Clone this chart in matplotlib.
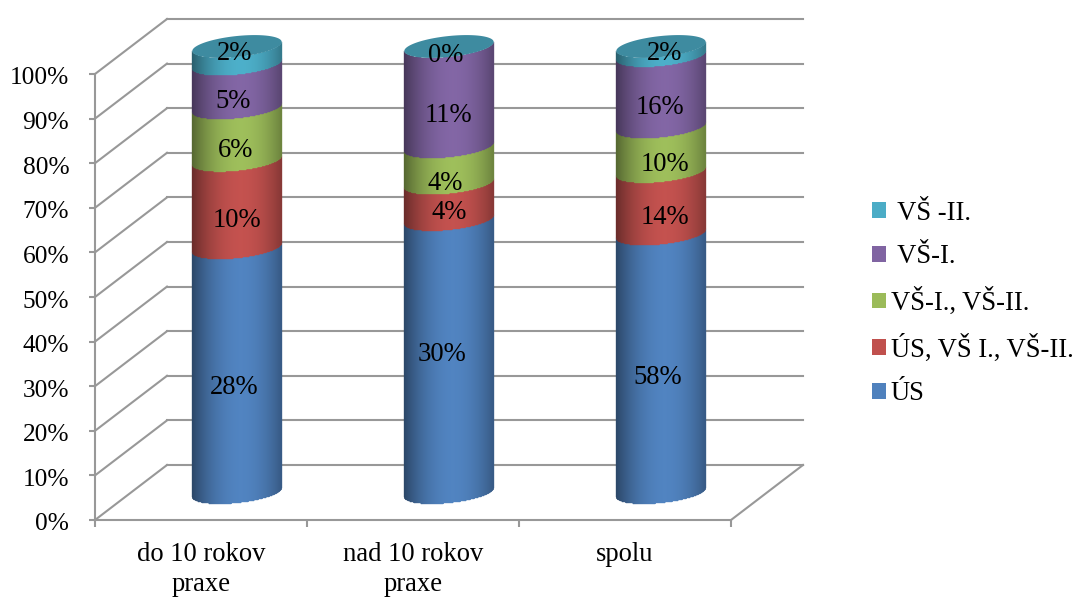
import numpy as np
import matplotlib
matplotlib.use('Agg')
import matplotlib.pyplot as plt
from matplotlib.colors import to_rgb
from matplotlib.patches import Patch
from matplotlib.ticker import PercentFormatter
from matplotlib.transforms import ScaledTranslation

plt.rcParams['font.family'] = ['Liberation Serif', 'DejaVu Serif']

categories = ['do 10 rokov\npraxe', 'nad 10 rokov\npraxe', 'spolu']
series_names = ['ÚS', 'ÚS, VŠ I., VŠ-II.', 'VŠ-I., VŠ-II.', ' VŠ-I.', ' VŠ -II.']
us = [28, 30, 58]
us_vs = [10, 4, 14]
vs12 = [6, 4, 10]
vs1 = [5, 11, 16]
vs2 = [2, 0, 2]
series_values = np.array([us, us_vs, vs12, vs1, vs2], dtype=float)
colors = ['#4F81BD', '#C0504D', '#9BBB59', '#8064A2', '#4BACC6']

# hand placed data labels, shift in pixels from the middle of the front face
label_dx = [[-3, -7, -3], [0, 0, 4], [-1, -4, 4], [-4, -1, -1], [-2, -3, 4]]
label_dy = [[7, -12, 4], [6, 1, 4], [6, 8, 5], [5, 8, 6], [-12, -1, -8]]

W, H = 1077, 597
FS = 19.2
GRID = '#989898'
LW = 1.5

fig = plt.figure(figsize=(W / 100, H / 100), dpi=100)
ax = fig.add_axes([95 / W, 1 - 520 / H, 636 / W, 446 / H])
ax.set_xlim(0, 3)
ax.set_ylim(0, 100)

px_x = 3 / 636    # one pixel in x data units
px_y = 100 / 446  # one pixel in y data units
depth_x = 72 * px_x
depth_y = 55 * px_y
radius = 44.7 * px_x
minor_r = 10.5 * px_y
tilt = 4.5 * px_y

# walls and floor of the 3d box
for v in range(0, 101, 10):
    ax.plot([0, depth_x], [v, v + depth_y], color=GRID, lw=LW, clip_on=False, zorder=1)
    ax.plot([depth_x, 3 + depth_x], [v + depth_y, v + depth_y], color=GRID, lw=LW,
            clip_on=False, zorder=1)
ax.plot([3, 3 + depth_x], [0, depth_y], color=GRID, lw=LW, clip_on=False, zorder=1)


def shade(u):
    return 0.55 + 0.47 * np.clip(1 - ((u - 0.1) / 1.1) ** 2, 0, 1)


u = np.linspace(-1, 1, 181)
arc = tilt * u - minor_r * np.sqrt(1 - u ** 2)
totals = series_values.sum(axis=0)
shares = series_values / totals * 100
tops = shares.cumsum(axis=0)

for c in range(len(categories)):
    cx = c + 0.5 + depth_x / 2
    base_y = depth_y / 2
    xs = cx + radius * u
    bottom = 0.0
    for s in range(len(series_names)):
        top = tops[s, c]
        if series_values[s, c] > 0:
            X = np.vstack((xs, xs))
            Y = np.vstack((base_y + bottom + arc, base_y + top + arc))
            mid = (u[:-1] + u[1:]) / 2
            rgb = np.clip(np.outer(shade(mid), to_rgb(colors[s])), 0, 1)
            ax.pcolormesh(X, Y, rgb[np.newaxis, :, :], clip_on=False, zorder=3,
                          antialiased=True, edgecolors='face', linewidth=0.25)
        bottom = top

    # top cap of the cylinder
    t = np.linspace(0, 2 * np.pi, 200)
    ax.fill(cx + radius * np.cos(t),
            base_y + 100 + tilt * np.cos(t) + minor_r * np.sin(t),
            color='#3E8BA0', lw=0, clip_on=False, zorder=4)

    bottom = 0.0
    for s in range(len(series_names)):
        top = tops[s, c]
        middle = base_y + (bottom + top) / 2 - minor_r
        ax.annotate('%d%%' % series_values[s, c], (cx, middle),
                    xytext=(label_dx[s][c] * 0.72, -label_dy[s][c] * 0.72),
                    textcoords='offset points', ha='center', va='center',
                    fontsize=FS, color='black', zorder=5, annotation_clip=False)
        bottom = top

for side in ['top', 'right']:
    ax.spines[side].set_visible(False)
for side in ['left', 'bottom']:
    ax.spines[side].set_color(GRID)
    ax.spines[side].set_linewidth(LW)

ax.set_yticks(range(0, 101, 10))
ax.yaxis.set_major_formatter(PercentFormatter(100, decimals=0))
ax.tick_params(axis='y', length=4.3, width=LW, color=GRID, pad=14.3, labelsize=18.3)
# nudge the percent labels down a little
down = ScaledTranslation(0, -2 / 100, fig.dpi_scale_trans)
for lab in ax.get_yticklabels():
    lab.set_transform(lab.get_transform() + down)

ax.set_xticks([0, 1, 2, 3])
ax.set_xticklabels([])
ax.set_xticks([0.5, 1.5, 2.5], minor=True)
ax.set_xticklabels(categories, minor=True, fontsize=FS, linespacing=1.24)
ax.tick_params(axis='x', which='major', length=5, width=LW, color=GRID)
ax.tick_params(axis='x', which='minor', length=0, pad=16)

handles = [Patch(facecolor=col, edgecolor='none') for col in colors]
fig.legend(handles[::-1], series_names[::-1], loc='center left',
           bbox_to_anchor=(872 / W, 1 - 303.5 / H), frameon=False, fontsize=FS,
           handlelength=0.53, handleheight=0.53, handletextpad=0.18,
           labelspacing=0.70, borderpad=0, borderaxespad=0)

fig.savefig('out.png', dpi=100)
